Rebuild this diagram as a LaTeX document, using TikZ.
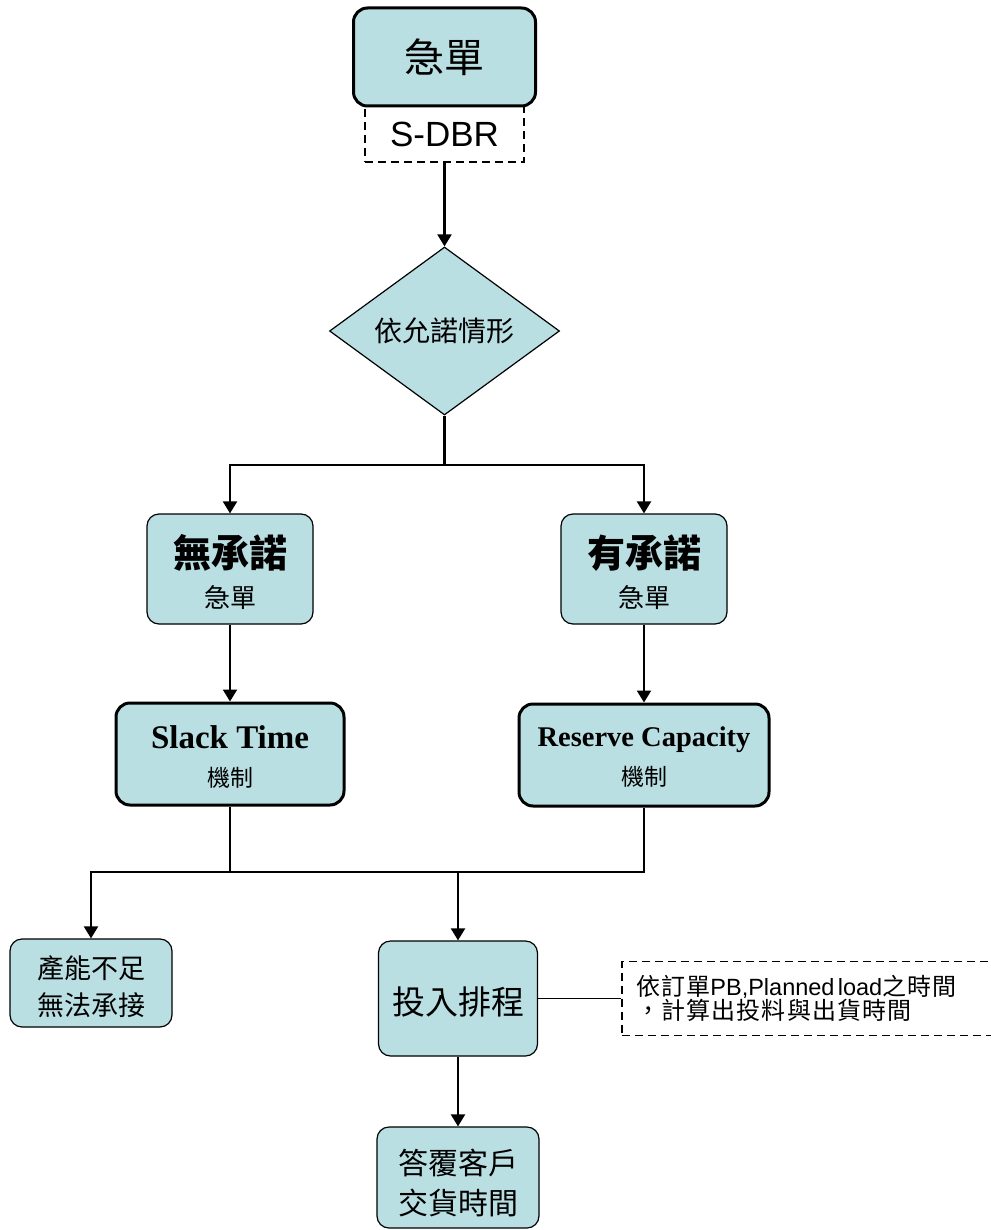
\documentclass[tikz,border=0pt]{standalone}
\usepackage{fontspec}
\setmainfont{Liberation Serif}
\newfontfamily\cjk{Noto Sans CJK TC}
\newfontfamily\cjksp[LetterSpace=5]{Noto Sans CJK TC}
\newfontfamily\lsans{Liberation Sans}
\newfontfamily\lserif{Liberation Serif}
\usetikzlibrary{shapes.geometric,arrows.meta}
\definecolor{boxfill}{RGB}{185,223,227}
\newcommand\fsz[2]{\fontsize{#1}{#2}\selectfont}
\tikzset{
  box/.style={draw=black, fill=boxfill, rounded corners=12pt, line width=1.2pt, inner sep=0pt},
  thickbox/.style={box, line width=3pt, rounded corners=14pt},
  dashbox/.style={draw=black, fill=white, line width=1.5pt, dash pattern=on 8pt off 5pt, inner sep=0pt},
  lbl/.style={inner sep=0pt, text=black},
  conn/.style={line width=2.2pt},
  arr/.style={line width=2.2pt, -{Triangle[length=12pt,width=14pt]}},
  thin/.style={line width=1.2pt}
}
\begin{document}
\begin{tikzpicture}[x=1pt,y=-1pt]
\useasboundingbox (0,0) rectangle (990,1230);
\fill[white] (0,0) rectangle (990,1230);

% top
\node[dashbox, minimum width=159pt, minimum height=56pt] (sdbr) at (444.5,134) {\lsans\fsz{35}{40}S-DBR};
\node[thickbox, minimum width=182pt, minimum height=98pt] (top) at (444.5,57) {\cjk\fsz{40}{44}急單};

% diamond
\node[diamond, draw=black, fill=boxfill, line width=1.2pt, inner sep=0pt, minimum width=230pt, minimum height=168pt] (dec) at (444.5,331) {\cjk\fsz{28}{32}依允諾情形};

% second row
\node[box, minimum width=166pt, minimum height=110pt] (nocommit) at (230,569) {};
\node[lbl] (nocommit1) at (230,553) {\cjk\bfseries\fsz{38}{40}無承諾};
\node[lbl] (nocommit2) at (230,598) {\cjk\fsz{26}{30}急單};

\node[box, minimum width=166pt, minimum height=110pt] (commit) at (644,569) {};
\node[lbl] (commit1) at (644,553) {\cjk\bfseries\fsz{38}{40}有承諾};
\node[lbl] (commit2) at (644,598) {\cjk\fsz{26}{30}急單};

% mechanisms
\node[thickbox, minimum width=228pt, minimum height=102pt] (slack) at (230,754) {};
\node[lbl] (slack1) at (230,737) {\lserif\bfseries\fsz{33}{36}Slack Time};
\node[lbl] (slack2) at (230,778) {\cjk\fsz{23}{26}機制};

\node[thickbox, minimum width=250pt, minimum height=102pt] (reserve) at (644,755) {};
\node[lbl] (reserve1) at (644,740) {\lserif\bfseries\fsz{28.5}{32}Reserve Capacity};
\node[lbl] (reserve2) at (644,777) {\cjk\fsz{23}{26}機制};

% bottom
\node[box, minimum width=162pt, minimum height=88pt] (nocap) at (91,983) {};
\node[lbl] (nocap1) at (91,968) {\cjk\fsz{27}{30}產能不足};
\node[lbl] (nocap2) at (91,1005) {\cjk\fsz{27}{30}無法承接};

\node[box, minimum width=159pt, minimum height=115pt] (sched) at (458,998.5) {};
\node[lbl] (sched1) at (458,1002) {\cjk\fsz{33}{36}投入排程};

\node[box, minimum width=162pt, minimum height=101pt] (reply) at (458,1177.5) {};
\node[lbl] (reply1) at (458,1163) {\cjk\fsz{30}{33}答覆客戶};
\node[lbl] (reply2) at (458,1203) {\cjk\fsz{30}{33}交貨時間};

\node[dashbox, minimum width=380pt, minimum height=74pt, text width=352pt, align=left] (note) at (812,998.5)
  {\fsz{24}{27}{\cjksp 依訂單}{\lsans\fsz{23.5}{27}PB,Planned load}{\cjksp 之時間}\\{\cjksp ，計算出投料與出貨時間}};

% coordinates
\coordinate (split) at (444.5,465);
\coordinate (j1) at (230,872);
\coordinate (j2) at (458,872);

% connectors
\draw[arr] (sdbr.south) -- (dec.north);
\draw[conn] (dec.south) -- (split);
\draw[arr] (split) -| (nocommit.north);
\draw[arr] (split) -| (commit.north);
\draw[arr] (nocommit.south) -- (slack.north);
\draw[arr] (commit.south) -- (reserve.north);
\draw[conn] (slack.south) -- (j1);
\draw[conn] (reserve.south) |- (j1);
\draw[arr] (j1) -| (nocap.north);
\draw[arr] (j2) -- (sched.north);
\draw[arr] (sched.south) -- (reply.north);
\draw[thin] (sched.east) -- (note.west);
\end{tikzpicture}
\end{document}
